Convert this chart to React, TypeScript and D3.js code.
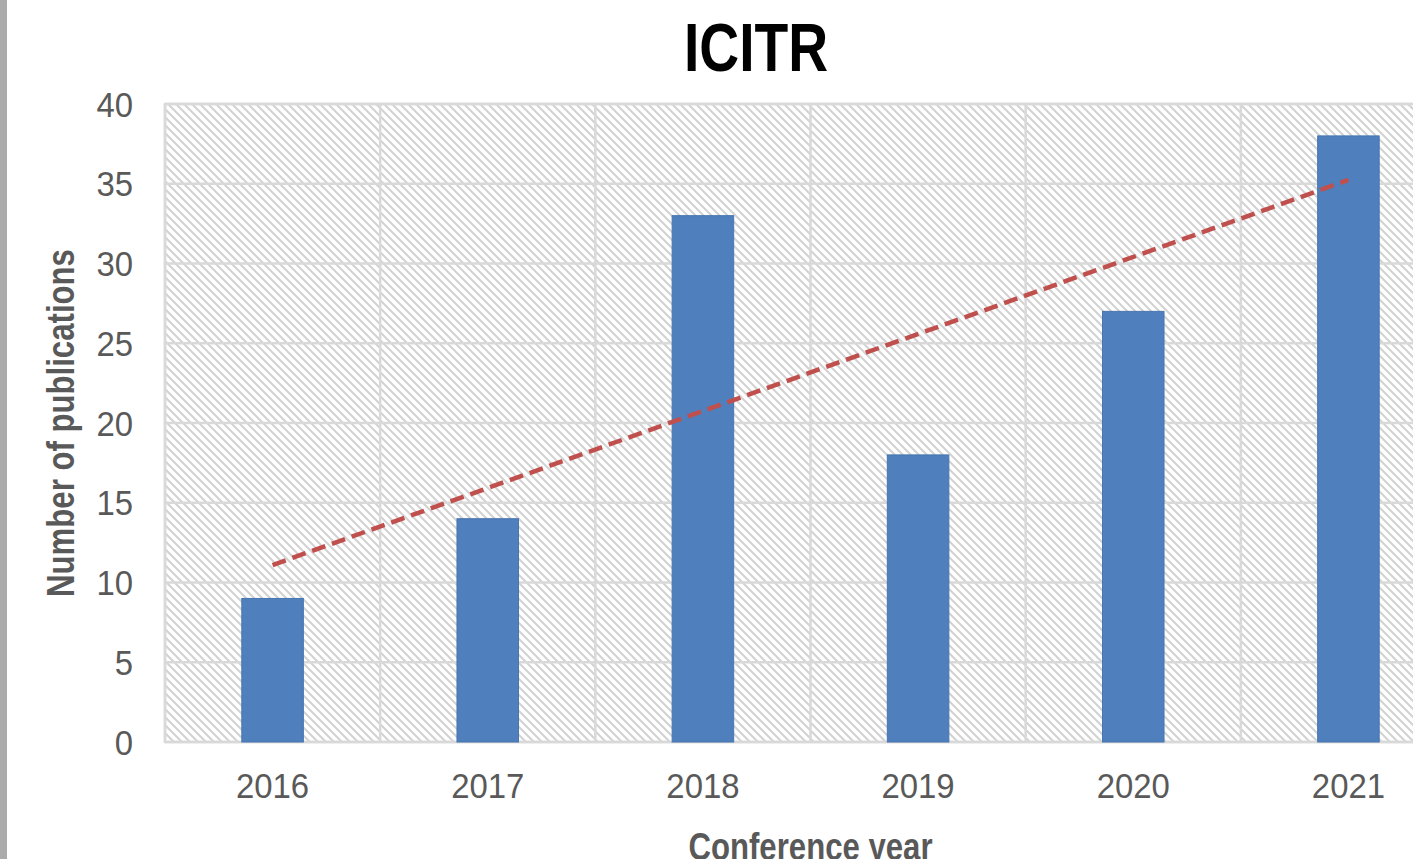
import React from "react";
import * as d3 from "d3";

const years = ["2016", "2017", "2018", "2019", "2020", "2021"];
const publications = [9, 14, 33, 18, 27, 38];
const yTicks = [0, 5, 10, 15, 20, 25, 30, 35, 40];
const title = "ICITR";
const xTitle = "Conference year";
const yTitle = "Number of publications";

const W = 1413;
const H = 859;
const plotLeft = 165;
const plotRight = 1456;
const plotTop = 104;
const plotBottom = 742;

export default function App() {
  const x = d3.scaleBand<string>().domain(years).range([plotLeft, plotRight]).padding(0);
  const y = d3.scaleLinear().domain([0, 40]).range([plotBottom, plotTop]);
  const bw = x.bandwidth() * 0.286;

  // linear trendline (least squares) computed from the data
  const xs = publications.map((_, i) => i + 1);
  const mx = d3.mean(xs)!;
  const my = d3.mean(publications)!;
  const sxy = d3.sum(xs.map((v, i) => (v - mx) * (publications[i] - my)));
  const sxx = d3.sum(xs.map((v) => (v - mx) * (v - mx)));
  const slope = sxy / sxx;
  const icpt = my - slope * mx;
  const trendPts: [number, number][] = [
    [x(years[0])! + x.bandwidth() / 2, y(icpt + slope * 1)],
    [x(years[years.length - 1])! + x.bandwidth() / 2, y(icpt + slope * years.length)],
  ];
  const line = d3.line();

  const grid = "#d9d9d9";
  const txt = "#595959";
  const font = "'Liberation Sans', Arial, sans-serif";

  return (
    <svg
      width={W}
      height={H}
      style={{ position: "absolute", left: 0, top: 0, background: "#fff" }}
      fontFamily={font}
    >
      <defs>
        <pattern id="hatch" patternUnits="userSpaceOnUse" width={8} height={8}>
          <rect width={8} height={8} fill="#ffffff" />
          <path d="M-2,-2 L10,10 M-2,6 L2,10 M6,-2 L10,2" stroke="#d2d2d2" strokeWidth={2} />
        </pattern>
      </defs>
      <rect x={0} y={0} width={7} height={H} fill="#ababab" />

      <rect
        x={plotLeft}
        y={plotTop}
        width={plotRight - plotLeft}
        height={plotBottom - plotTop}
        fill="url(#hatch)"
        stroke={grid}
        strokeWidth={2.5}
      />
      {yTicks.map((t) => (
        <line key={"h" + t} x1={plotLeft} x2={plotRight} y1={y(t)} y2={y(t)} stroke={grid} strokeWidth={2.5} />
      ))}
      {years.map((yr) => (
        <line key={"v" + yr} x1={x(yr)!} x2={x(yr)!} y1={plotTop} y2={plotBottom} stroke={grid} strokeWidth={2.5} />
      ))}

      {years.map((yr, i) => (
        <rect
          key={"b" + yr}
          x={x(yr)! + x.bandwidth() / 2 - bw / 2}
          y={y(publications[i])}
          width={bw}
          height={y(0) - y(publications[i])}
          fill="#4f7fbc"
          stroke="#4776b0"
          strokeWidth={1}
        />
      ))}

      <path
        d={line(trendPts) || ""}
        stroke="#c0504d"
        strokeWidth={4.5}
        strokeDasharray="14 7"
        fill="none"
      />

      {yTicks.map((t) => (
        <text
          key={"yt" + t}
          transform={`translate(133,${y(t) + 12.5}) scale(0.94,1)`}
          textAnchor="end"
          fontSize={35}
          fill={txt}
        >
          {t}
        </text>
      ))}
      {years.map((yr) => (
        <text
          key={"xt" + yr}
          transform={`translate(${x(yr)! + x.bandwidth() / 2},798) scale(0.94,1)`}
          textAnchor="middle"
          fontSize={35}
          fill={txt}
        >
          {yr}
        </text>
      ))}

      <text
        transform={`translate(756,71) scale(0.8,1)`}
        textAnchor="middle"
        fontSize={69}
        fontWeight="bold"
        fill="#000"
      >
        {title}
      </text>
      <text
        transform={`translate(${(plotLeft + plotRight) / 2},860) scale(0.82,1)`}
        textAnchor="middle"
        fontSize={38}
        fontWeight="bold"
        fill={txt}
      >
        {xTitle}
      </text>
      <text
        transform={`translate(74,${(plotTop + plotBottom) / 2}) rotate(-90) scale(0.82,1)`}
        textAnchor="middle"
        fontSize={38}
        fontWeight="bold"
        fill={txt}
      >
        {yTitle}
      </text>
    </svg>
  );
}
